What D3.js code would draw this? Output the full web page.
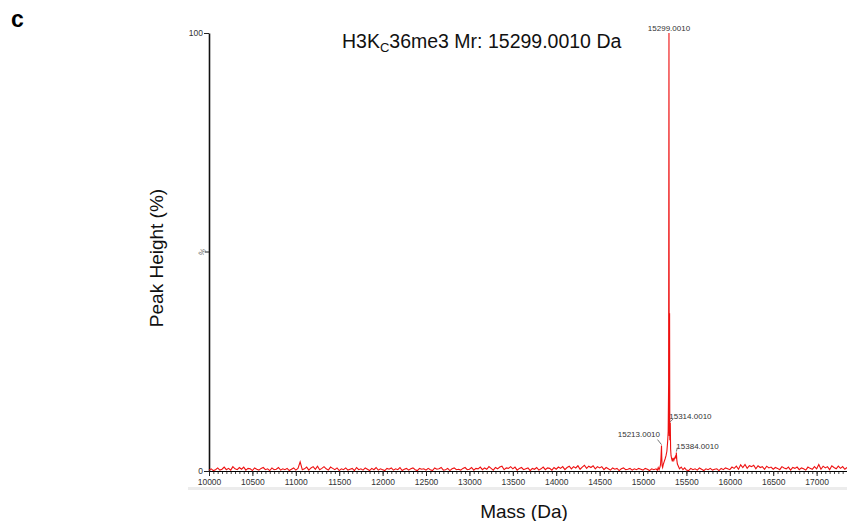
<!DOCTYPE html>
<html>
<head>
<meta charset="utf-8">
<script src="https://cdn.jsdelivr.net/npm/d3@7"></script>
<style>
  body { margin: 0; background: #fff; }
  text { font-family: "Liberation Sans", Arial, sans-serif; }
</style>
</head>
<body>
<svg id="chart" width="847" height="521"></svg>
<script>
// baseline noise, % of base peak, sampled every 25 Da from 10000 Da
const baseStart = 10000;
const baseStep = 25;
const baseline = [
  0.2,0.5,0.1,0.3,0.7,0.2,0.4,0.9,0.3,0.6,0.2,1.0,0.5,0.3,0.8,0.4,0.9,0.2,0.6,0.5,
  0.1,0.7,0.4,0.2,0.6,0.8,0.3,0.5,0.1,0.7,0.3,0.4,0.8,0.2,0.5,0.3,0.6,0.1,0.4,0.7,
  0.2,0.6,2.1,0.3,0.5,0.9,0.2,0.7,1.0,0.4,1.1,0.3,0.6,1.0,0.5,0.2,0.9,0.6,0.3,0.7,
  0.1,0.5,0.3,0.7,0.2,0.4,0.6,0.1,0.8,0.3,0.5,0.2,0.7,0.4,0.1,0.6,0.3,0.8,0.2,0.5,
  0.3,0.1,0.6,0.4,0.7,0.2,0.5,0.3,0.8,0.1,0.4,0.6,0.2,0.5,0.7,0.3,0.1,0.6,0.4,0.5,
  0.2,0.6,0.3,0.1,0.7,0.4,0.5,0.8,0.2,0.3,0.6,0.1,0.5,0.7,0.3,0.4,0.2,0.6,0.8,0.3,
  0.4,0.8,0.2,0.6,0.5,0.9,0.3,0.7,0.4,1.0,0.6,0.2,0.8,0.5,0.9,1.1,0.3,0.7,0.6,1.0,
  0.5,0.9,0.2,0.6,0.8,0.3,0.5,0.7,0.1,0.6,0.4,0.8,0.2,0.5,0.9,0.3,0.7,0.6,0.2,0.8,
  0.4,0.9,0.6,1.0,0.3,0.8,1.1,0.5,1.0,0.7,1.2,0.4,0.9,1.3,0.6,1.1,0.8,1.2,0.5,1.0,
  0.7,1.0,0.3,0.8,0.5,0.2,0.7,0.4,0.6,0.1,0.5,0.7,0.3,0.4,0.6,0.2,0.5,0.3,0.6,0.4,
  0.2,0.6,0.4,0.1,0.5,0.3,0.6,0.2,0.4,0.7,0.3,0.5,0.1,0.6,0.4,0.2,0.5,0.3,0.6,0.2,
  0.4,0.1,0.6,0.3,0.5,0.2,0.7,0.4,0.1,0.5,0.3,0.6,0.2,0.4,0.5,0.1,0.6,0.3,0.7,0.5,
  0.3,0.9,0.6,1.1,0.4,1.4,0.8,1.5,0.6,1.2,1.0,1.3,0.5,1.2,0.8,1.0,0.4,1.1,0.7,0.9,
  0.4,0.8,0.6,0.3,1.0,0.7,0.5,0.9,0.2,0.8,0.6,0.9,0.3,0.7,0.5,0.2,0.9,0.6,0.4,1.0,
  0.5,1.5,0.4,1.1,0.7,1.0,0.3,1.2,0.8,0.5,1.1,0.6,1.0,0.4,0.8
];

// the peak cluster round the main species: [mass, %]
const cluster = [
  [15150,0.5],[15165,0.2],[15175,0.8],[15185,0.3],[15195,0.9],[15202,1.5],
  [15207,3.0],[15213,5.8],[15216,3.2],[15220,1.2],[15226,0.8],[15235,1.6],
  [15245,2.2],[15255,2.8],[15265,3.5],[15275,4.5],[15283,6.5],[15290,9.0],
  [15295,20],[15299,100],[15302,8],[15306,36],[15309,7],[15314,11],
  [15318,5],[15323,3.5],[15330,2.8],[15338,2.2],[15346,3.0],[15355,2.4],
  [15365,3.0],[15375,3.4],[15380,2.8],[15384,4.2],[15389,2.6],[15396,1.6],
  [15405,1.2],[15420,0.5],[15440,0.9],[15460,0.3],[15480,0.7],[15500,0.2]
];

// labelled peaks
const peakMass = [15299, 15314, 15213, 15384];
const peakText = ["15299.0010", "15314.0010", "15213.0010", "15384.0010"];

const xTicks = d3.range(10000, 17001, 500);
const xMinorTicks = d3.range(10000, 17351, 50);
const yTicks = [0, 100];

const svg = d3.select("#chart");
svg.append("rect").attr("width", 847).attr("height", 521).attr("fill", "#fff");

const x = d3.scaleLinear([10000, 17350], [209, 847]);
const y = d3.scaleLinear([0, 100], [471, 33]);

// build the spectrum
const spectrum = baseline
  .map((v, i) => [baseStart + i * baseStep, v])
  .filter((d) => d[0] < 15140 || d[0] > 15510)
  .concat(cluster)
  .sort((a, b) => a[0] - b[0]);

// grey strip under the axis
svg.append("rect")
  .attr("x", 188).attr("y", 487)
  .attr("width", 659).attr("height", 3)
  .attr("fill", "#ececec");

// x axis, minor then major ticks
svg.append("g")
  .attr("transform", "translate(0,471)")
  .call(d3.axisBottom(x).tickValues(xMinorTicks).tickSize(3).tickFormat(""))
  .call((g) => g.select(".domain").remove())
  .call((g) => g.selectAll(".tick line").attr("stroke", "#444"));

svg.append("g")
  .attr("transform", "translate(0,471)")
  .call(d3.axisBottom(x).tickValues(xTicks).tickSize(5).tickSizeOuter(0).tickPadding(3).tickFormat(d3.format("d")))
  .call((g) => g.select(".domain").attr("stroke", "#000"))
  .call((g) => g.selectAll(".tick line").attr("stroke", "#222"))
  .call((g) => g.selectAll(".tick text")
    .attr("font-family", "Liberation Sans, Arial, sans-serif")
    .attr("font-size", 8.5)
    .attr("fill", "#333"));

// y axis
svg.append("g")
  .attr("transform", "translate(209,0)")
  .call(d3.axisLeft(y).tickValues(yTicks).tickSize(5).tickPadding(1).tickSizeOuter(0))
  .call((g) => g.select(".domain").attr("stroke", "#111").attr("stroke-width", 1.6))
  .call((g) => g.selectAll(".tick line").attr("stroke", "#222"))
  .call((g) => g.selectAll(".tick text")
    .attr("font-family", "Liberation Sans, Arial, sans-serif")
    .attr("font-size", 8.5)
    .attr("fill", "#333"));

svg.append("line")
  .attr("x1", 205).attr("x2", 209)
  .attr("y1", y(50)).attr("y2", y(50))
  .attr("stroke", "#222");
svg.append("text")
  .attr("transform", `translate(202,${y(50)}) rotate(-60)`)
  .attr("text-anchor", "middle")
  .attr("dy", "0.35em")
  .attr("font-size", 8)
  .attr("fill", "#666")
  .text("%");

// spectrum trace
svg.append("path")
  .datum(spectrum)
  .attr("fill", "none")
  .attr("stroke", "#ee1111")
  .attr("stroke-width", 1.1)
  .attr("d", d3.line().x((d) => x(d[0])).y((d) => y(d[1])));

// peak labels: text offset from the peak top, and leader end offset
const textDx = [0, -1, -1.5, 0];
const textDy = [-2, -4, -8.5, -3.5];
const anchors = ["middle", "start", "end", "start"];
const leadDx = [0, 3, -4, 1];
const leadDy = [0, -4, -6, -5];
const valueAt = (m) => cluster.find((d) => d[0] === m)[1];

peakMass.forEach((m, i) => {
  const px = x(m), py = y(valueAt(m));
  if (leadDy[i] !== 0) {
    svg.append("line")
      .attr("x1", px).attr("y1", py - 1)
      .attr("x2", px + leadDx[i]).attr("y2", py + leadDy[i])
      .attr("stroke", "#555").attr("stroke-width", 0.8);
  }
  svg.append("text")
    .attr("x", px + textDx[i])
    .attr("y", py + textDy[i])
    .attr("text-anchor", anchors[i])
    .attr("font-size", 8)
    .attr("fill", "#333")
    .text(peakText[i]);
});

// titles
const title = svg.append("text")
  .attr("x", 342).attr("y", 48)
  .attr("font-size", 19.5)
  .attr("fill", "#111");
title.append("tspan").text("H3K");
title.append("tspan").attr("font-size", 13).attr("dy", 4).text("C");
title.append("tspan").attr("dy", -4).text("36me3 Mr: 15299.0010 Da");

svg.append("text")
  .attr("transform", "translate(163,258) rotate(-90)")
  .attr("text-anchor", "middle")
  .attr("font-size", 19)
  .attr("fill", "#111")
  .text("Peak Height (%)");

svg.append("text")
  .attr("x", 524).attr("y", 518)
  .attr("text-anchor", "middle")
  .attr("font-size", 19)
  .attr("fill", "#111")
  .text("Mass (Da)");

svg.append("text")
  .attr("x", 11).attr("y", 27)
  .attr("font-size", 23)
  .attr("font-weight", "bold")
  .attr("fill", "#000")
  .text("c");
</script>
</body>
</html>
